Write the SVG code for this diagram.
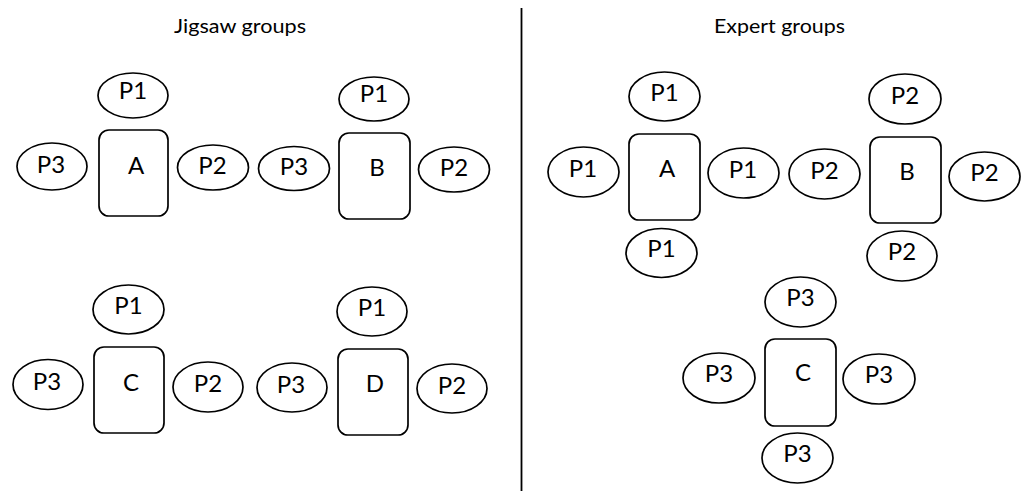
<svg xmlns="http://www.w3.org/2000/svg" width="1021" height="491" viewBox="0 0 1021 491">
  <style>
    .seat { fill: #ffffff; stroke: #000000; stroke-width: 1.7; }
    .table { fill: #ffffff; stroke: #000000; stroke-width: 1.7; }
    .lbl { font-family: Lato, "Liberation Sans", sans-serif; font-size: 24px; fill: #000000; text-anchor: middle; }
    .title { font-family: Lato, "Liberation Sans", sans-serif; font-size: 18.5px; fill: #000000; text-anchor: middle; }
  </style>
  <rect width="1021" height="491" fill="#ffffff"/>

  <!-- headings -->
  <text class="title" x="240" y="33" textLength="132" lengthAdjust="spacingAndGlyphs">Jigsaw groups</text>
  <text class="title" x="779.5" y="33" textLength="131" lengthAdjust="spacingAndGlyphs">Expert groups</text>

  <!-- divider between the two halves -->
  <g id="divider">
    <line x1="521.5" y1="8" x2="521.5" y2="491" stroke="#000000" stroke-width="1.8"/>
  </g>

  <!-- Jigsaw group A -->
  <g id="jigsaw-A">
    <rect class="table" x="99" y="130" width="69" height="86" rx="10"/>
    <text class="lbl" x="136" y="174">A</text>
    <ellipse class="seat" cx="133" cy="95.5" rx="35" ry="22.5"/>
    <text class="lbl" x="133" y="99">P1</text>
    <ellipse class="seat" cx="52" cy="166.5" rx="35" ry="23.5"/>
    <text class="lbl" x="51" y="173">P3</text>
    <ellipse class="seat" cx="213" cy="167.5" rx="35.5" ry="22.5"/>
    <text class="lbl" x="212.5" y="174">P2</text>
  </g>

  <!-- Jigsaw group B -->
  <g id="jigsaw-B">
    <rect class="table" x="339" y="133" width="71" height="86" rx="10"/>
    <text class="lbl" x="377" y="176">B</text>
    <ellipse class="seat" cx="374" cy="99" rx="35" ry="22"/>
    <text class="lbl" x="374" y="102">P1</text>
    <ellipse class="seat" cx="294" cy="168.5" rx="35.5" ry="22"/>
    <text class="lbl" x="294" y="175">P3</text>
    <ellipse class="seat" cx="454" cy="169.5" rx="35.5" ry="22.5"/>
    <text class="lbl" x="454" y="176">P2</text>
  </g>

  <!-- Jigsaw group C -->
  <g id="jigsaw-C">
    <rect class="table" x="94" y="347" width="70" height="86" rx="10"/>
    <text class="lbl" x="131" y="391">C</text>
    <ellipse class="seat" cx="128.5" cy="309.5" rx="35.5" ry="24.5"/>
    <text class="lbl" x="128.5" y="314">P1</text>
    <ellipse class="seat" cx="48" cy="384.5" rx="35" ry="25"/>
    <text class="lbl" x="47" y="390">P3</text>
    <ellipse class="seat" cx="208" cy="387" rx="35" ry="25"/>
    <text class="lbl" x="208" y="392">P2</text>
  </g>

  <!-- Jigsaw group D -->
  <g id="jigsaw-D">
    <rect class="table" x="338" y="349" width="70" height="86" rx="10"/>
    <text class="lbl" x="375" y="392">D</text>
    <ellipse class="seat" cx="372" cy="311.5" rx="35" ry="24.5"/>
    <text class="lbl" x="372" y="316">P1</text>
    <ellipse class="seat" cx="292" cy="387.5" rx="35" ry="24.5"/>
    <text class="lbl" x="291" y="393">P3</text>
    <ellipse class="seat" cx="452" cy="388.5" rx="35" ry="24.5"/>
    <text class="lbl" x="452" y="394">P2</text>
  </g>

  <!-- Expert group A -->
  <g id="expert-A">
    <rect class="table" x="629" y="134" width="71" height="86" rx="10"/>
    <text class="lbl" x="667" y="177">A</text>
    <ellipse class="seat" cx="664.5" cy="96.5" rx="35.5" ry="24.5"/>
    <text class="lbl" x="664.5" y="101">P1</text>
    <ellipse class="seat" cx="583.5" cy="172" rx="35.5" ry="25"/>
    <text class="lbl" x="583" y="177">P1</text>
    <ellipse class="seat" cx="743.5" cy="173" rx="35.5" ry="25"/>
    <text class="lbl" x="743" y="178">P1</text>
    <ellipse class="seat" cx="661.5" cy="253" rx="35.5" ry="24.5"/>
    <text class="lbl" x="661.5" y="257">P1</text>
  </g>

  <!-- Expert group B -->
  <g id="expert-B">
    <rect class="table" x="870" y="137" width="71" height="86" rx="10"/>
    <text class="lbl" x="907" y="180">B</text>
    <ellipse class="seat" cx="905" cy="99" rx="36" ry="25"/>
    <text class="lbl" x="905" y="104">P2</text>
    <ellipse class="seat" cx="824.5" cy="174" rx="35.5" ry="25"/>
    <text class="lbl" x="824.5" y="179">P2</text>
    <ellipse class="seat" cx="984.5" cy="176.5" rx="35.5" ry="24.5"/>
    <text class="lbl" x="984.5" y="181">P2</text>
    <ellipse class="seat" cx="902" cy="256" rx="35" ry="25"/>
    <text class="lbl" x="902" y="260">P2</text>
  </g>

  <!-- Expert group C -->
  <g id="expert-C">
    <rect class="table" x="765" y="339" width="71" height="87" rx="10"/>
    <text class="lbl" x="803" y="381">C</text>
    <ellipse class="seat" cx="800.5" cy="302" rx="35.5" ry="25"/>
    <text class="lbl" x="800.5" y="306">P3</text>
    <ellipse class="seat" cx="719" cy="378" rx="36" ry="25"/>
    <text class="lbl" x="719" y="382">P3</text>
    <ellipse class="seat" cx="879" cy="379" rx="36" ry="25"/>
    <text class="lbl" x="879" y="383">P3</text>
    <ellipse class="seat" cx="797.5" cy="458" rx="35.5" ry="25"/>
    <text class="lbl" x="797.5" y="462">P3</text>
  </g>
</svg>
